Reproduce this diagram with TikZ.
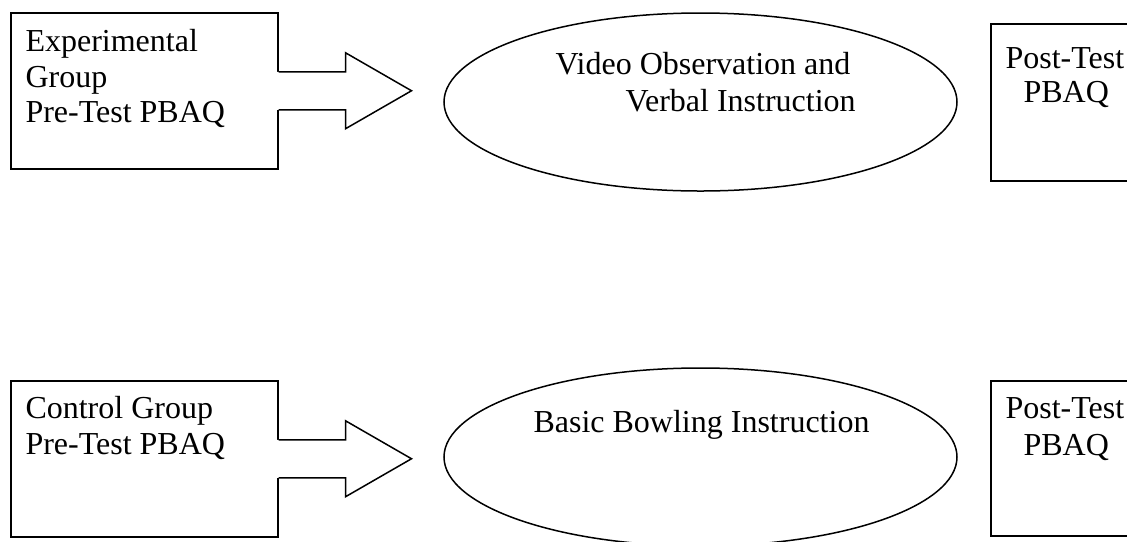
\documentclass[tikz,border=0pt]{standalone}
\usepackage{fontspec}
\setmainfont{Liberation Serif}
\usetikzlibrary{shapes.geometric}
\tikzstyle{groupBox}=[draw,rectangle,line width=0.6pt,anchor=north west,inner sep=0pt]
\tikzstyle{stepEllipse}=[draw,ellipse,line width=0.6pt,inner sep=0pt,minimum width=205.2pt,minimum height=71.2pt]
\tikzstyle{boxText}=[anchor=base west,inner sep=0pt,font=\fontsize{12.8}{15}\selectfont]
\tikzstyle{blockArrow}=[line width=0.6pt,line join=miter]

\begin{document}
\begin{tikzpicture}[x=0.4pt,y=-0.4pt]
	\useasboundingbox (0,0) rectangle (1127,541);
	\clip (0,0) rectangle (1127,541);

	\node[groupBox, minimum width=106.8pt, minimum height=62.4pt] (exp) at (10,12) {};
	\node[groupBox, minimum width=106.8pt, minimum height=62.4pt] (ctrl) at (10,380) {};
	\node[stepEllipse] (video) at (700.5,102) {};
	\node[stepEllipse] (basic) at (700.5,457) {};
	\node[groupBox, minimum width=80pt, minimum height=62.8pt] (postExp) at (990,23) {};
	\node[groupBox, minimum width=80pt, minimum height=62pt] (postCtrl) at (990,380) {};

	\node[boxText] (exp1) at (25,51) {Experimental};
	\node[boxText] (exp2) at (25,87) {Group};
	\node[boxText] (exp3) at (25,122) {Pre-Test PBAQ};
	\node[boxText] (ctrl1) at (25,418) {Control Group};
	\node[boxText] (ctrl2) at (25,454) {Pre-Test PBAQ};
	\node[boxText] (video1) at (555,74) {Video Observation and};
	\node[boxText] (video2) at (625,111) {Verbal Instruction};
	\node[boxText] (basic1) at (533,432) {Basic Bowling Instruction};
	\node[boxText] (postExp1) at (1005,68) {Post-Test};
	\node[boxText] (postExp2) at (1023,102) {PBAQ};
	\node[boxText] (postCtrl1) at (1005,418) {Post-Test};
	\node[boxText] (postCtrl2) at (1023,455) {PBAQ};

	\fill[white] (exp.east) ++(-3,-19) -- ++(70,0) -- ++(0,-19) -- ++(66,38) -- ++(-66,38) -- ++(0,-19) -- ++(-70,0) -- cycle;
	\draw[blockArrow] (exp.east) ++(0,-19) -- ++(67,0) -- ++(0,-19) -- ++(66,38) -- ++(-66,38) -- ++(0,-19) -- ++(-67,0);
	\fill[white] (ctrl.east) ++(-3,-19) -- ++(70,0) -- ++(0,-19) -- ++(66,38) -- ++(-66,38) -- ++(0,-19) -- ++(-70,0) -- cycle;
	\draw[blockArrow] (ctrl.east) ++(0,-19) -- ++(67,0) -- ++(0,-19) -- ++(66,38) -- ++(-66,38) -- ++(0,-19) -- ++(-67,0);
\end{tikzpicture}
\end{document}
